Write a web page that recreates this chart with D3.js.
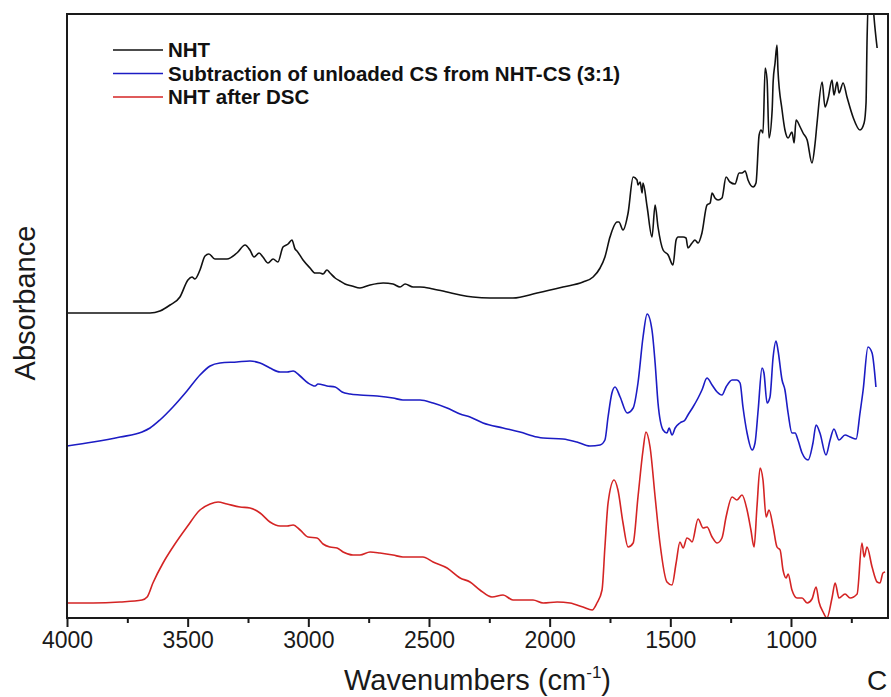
<!DOCTYPE html>
<html lang="en">
<head>
<meta charset="UTF-8">
<title>FTIR spectra</title>
<script src="https://d3js.org/d3.v7.min.js"></script>
<style>
  body { margin: 0; background: #ffffff; }
  text { font-family: Arial, "Liberation Sans", sans-serif; }
</style>
</head>
<body>
<div id="chart"></div>
<script>

// wavenumbers (cm-1) and absorbance (arbitrary units, offset stacked)
var nhtWn = [4000,3656,3615,3573,3532,3499,3482,3470,3449,3428,3412,3387,3337,3296,3262,3242,3225,3204,3188,3167,
  3146,3126,3105,3084,3068,3055,3047,3022,2993,2972,2952,2939,2923,2910,2889,2869,2848,2819,2786,2744,
  2690,2649,2620,2599,2566,2537,2483,2425,2371,2318,2247,2152,2052,1945,1862,1820,1791,1771,1750,1721,
  1713,1696,1675,1654,1638,1634,1625,1617,1613,1596,1576,1563,1551,1530,1509,1489,1476,1468,1447,1435,
  1427,1410,1398,1385,1369,1348,1335,1327,1315,1302,1286,1269,1253,1232,1215,1203,1190,1178,1157,1145,
  1132,1124,1116,1107,1099,1091,1078,1074,1066,1058,1054,1037,1025,1012,996,987,979,962,950,933,
  913,900,892,871,859,846,830,822,809,801,784,768,743,714,697,689,685,676,664,656,643];
var nhtAbs = [305,305,307,313,321,338,341,339,348,362,364,359,359,365,373,368,361,365,361,355,
  359,356,371,374,378,369,367,358,350,345,345,344,348,345,340,337,334,332,330,333,
  335,334,331,334,331,331,329,326,323,321,320,320,325,331,336,341,350,361,381,396,
  396,388,405,441,438,433,436,425,435,411,381,413,391,368,363,353,378,381,381,380,
  370,375,378,375,385,413,415,425,420,418,420,441,436,434,445,445,447,438,431,435,
  483,488,485,550,538,480,508,536,555,573,548,508,488,480,486,475,498,491,485,478,
  455,475,495,536,511,520,538,523,536,525,535,521,501,488,495,515,575,628,628,601,570];

var subWn = [4000,3892,3780,3689,3656,3615,3561,3503,3449,3407,3366,3296,3242,3200,3159,3117,3088,3063,3034,3001,
  2972,2960,2923,2889,2860,2827,2786,2715,2649,2608,2537,2483,2425,2371,2330,2276,2193,2123,2052,2027,
  1945,1887,1833,1791,1771,1758,1742,1729,1708,1679,1654,1634,1613,1596,1576,1563,1551,1530,1514,1505,
  1493,1480,1460,1439,1427,1406,1385,1369,1348,1327,1306,1286,1269,1244,1224,1211,1199,1182,1161,1149,
  1136,1120,1112,1099,1087,1074,1062,1054,1037,1025,1012,996,983,971,954,929,909,896,880,855,
  838,822,801,776,755,730,714,701,681,664,648];
var subAbs = [172,176,181,186,190,198,211,227,243,252,255,256,257,255,250,246,246,247,242,235,
  232,234,232,231,226,224,223,222,220,218,218,215,210,204,201,195,190,186,181,180,
  179,176,172,173,178,201,225,231,221,205,210,235,281,304,288,255,215,188,185,190,
  183,190,195,198,203,211,220,228,240,233,226,223,231,238,238,235,211,185,168,175,
  208,250,245,215,221,261,277,268,238,228,205,185,185,178,165,158,175,193,185,163,
  178,189,178,183,181,179,205,228,271,265,231];

var dscWn = [4000,3892,3780,3689,3668,3644,3602,3561,3503,3449,3407,3374,3337,3283,3242,3200,3159,3117,3088,3063,
  3034,3001,2964,2939,2910,2881,2856,2815,2786,2744,2703,2649,2608,2566,2525,2483,2425,2371,2330,2289,
  2239,2193,2152,2069,2027,1969,1916,1862,1824,1804,1783,1771,1758,1733,1717,1696,1675,1654,1634,1613,
  1601,1584,1563,1543,1514,1493,1476,1460,1447,1431,1418,1410,1385,1364,1348,1327,1306,1286,1269,1244,
  1224,1203,1182,1166,1153,1141,1128,1116,1103,1091,1074,1058,1045,1033,1020,1012,996,975,954,933,
  913,896,884,867,851,830,817,801,776,755,726,706,697,685,664,643,631,619,610];
var dscAbs = [15,15,16,18,21,35,55,71,91,108,114,116,114,111,110,105,96,92,92,93,
  88,81,80,74,71,70,66,63,63,66,65,63,61,61,61,56,50,40,36,28,
  21,23,18,18,15,16,15,11,8,15,28,71,115,138,128,95,71,75,121,168,
  186,171,121,75,36,33,55,76,70,80,78,76,99,90,91,81,75,80,101,121,
  118,123,108,88,71,111,150,138,101,108,91,71,68,48,40,44,28,20,20,15,
  19,31,16,6,0,20,35,20,24,20,24,75,61,71,51,36,35,45,46];

var seriesNames = ["NHT", "Subtraction of unloaded CS from NHT-CS (3:1)", "NHT after DSC"];
var seriesColors = ["#111111", "#1c1cc4", "#d42424"];
var majorTicks = [4000, 3500, 3000, 2500, 2000, 1500, 1000];
var minorTicks = [3750, 3250, 2750, 2250, 1750, 1250, 750];

var margin = {top: 14, right: 3, bottom: 79, left: 67},
    width = 891 - margin.left - margin.right,
    height = 697 - margin.top - margin.bottom;

var svg = d3.select("#chart")
  .append("svg")
  .attr("width", 891)
  .attr("height", 697)
  .append("g")
  .attr("transform", "translate(" + margin.left + "," + margin.top + ")");

var x = d3.scaleLinear().domain([4000, 598]).range([0, width]);
var y = d3.scaleLinear().domain([0, 604]).range([height, 0]);

svg.append("clipPath").attr("id", "plotclip")
  .append("rect").attr("width", width).attr("height", height);

var series = [
  d3.zip(nhtWn, nhtAbs),
  d3.zip(subWn, subAbs),
  d3.zip(dscWn, dscAbs)
];

var line = d3.line()
  .x(function(d) { return x(d[0]); })
  .y(function(d) { return y(d[1]); })
  .curve(d3.curveMonotoneX);

series.forEach(function(s, i) {
  svg.append("path")
    .datum(s)
    .attr("clip-path", "url(#plotclip)")
    .attr("fill", "none")
    .attr("stroke", seriesColors[i])
    .attr("stroke-width", 1.6)
    .attr("stroke-linejoin", "round")
    .attr("d", line);
});

// frame
svg.append("rect")
  .attr("width", width)
  .attr("height", height)
  .attr("fill", "none")
  .attr("stroke", "#1a1a1a")
  .attr("stroke-width", 2);

// bottom axis, major + minor ticks
var xAxis = svg.append("g")
  .attr("transform", "translate(0," + height + ")")
  .call(d3.axisBottom(x).tickValues(majorTicks).tickSize(9).tickPadding(5).tickFormat(d3.format("d")));
xAxis.select(".domain").remove();
xAxis.selectAll(".tick line").attr("stroke", "#1a1a1a").attr("stroke-width", 2);
xAxis.selectAll(".tick text")
  .style("font-family", "Arial, 'Liberation Sans', sans-serif")
  .style("font-size", "23px")
  .attr("fill", "#1a1a1a");

var xMinor = svg.append("g")
  .attr("transform", "translate(0," + height + ")")
  .call(d3.axisBottom(x).tickValues(minorTicks).tickSize(5).tickFormat(""));
xMinor.select(".domain").remove();
xMinor.selectAll(".tick line").attr("stroke", "#1a1a1a").attr("stroke-width", 2);

// axis titles
var xTitle = svg.append("text")
  .attr("x", width / 2)
  .attr("y", height + 72)
  .attr("text-anchor", "middle")
  .style("font-size", "29px")
  .attr("fill", "#1a1a1a");
xTitle.append("tspan").text("Wavenumbers (cm");
xTitle.append("tspan").attr("dy", -12).style("font-size", "17px").text("-1");
xTitle.append("tspan").attr("dy", 12).text(")");

svg.append("text")
  .attr("x", 800)
  .attr("y", height + 72)
  .style("font-size", "28px")
  .attr("fill", "#1a1a1a")
  .text("C");

svg.append("text")
  .attr("transform", "translate(-32," + 289 + ") rotate(-90)")
  .attr("text-anchor", "middle")
  .style("font-size", "29px")
  .attr("fill", "#1a1a1a")
  .text("Absorbance");

// legend
seriesNames.forEach(function(name, i) {
  var ly = 36 + i * 23.5;
  svg.append("line")
    .attr("x1", 46).attr("x2", 96)
    .attr("y1", ly).attr("y2", ly)
    .attr("stroke", seriesColors[i])
    .attr("stroke-width", 1.6);
  svg.append("text")
    .attr("x", 101).attr("y", ly + 7)
    .style("font-size", "20.5px")
    .style("font-weight", "bold")
    .attr("fill", "#111111")
    .text(name);
});

</script>
</body>
</html>
